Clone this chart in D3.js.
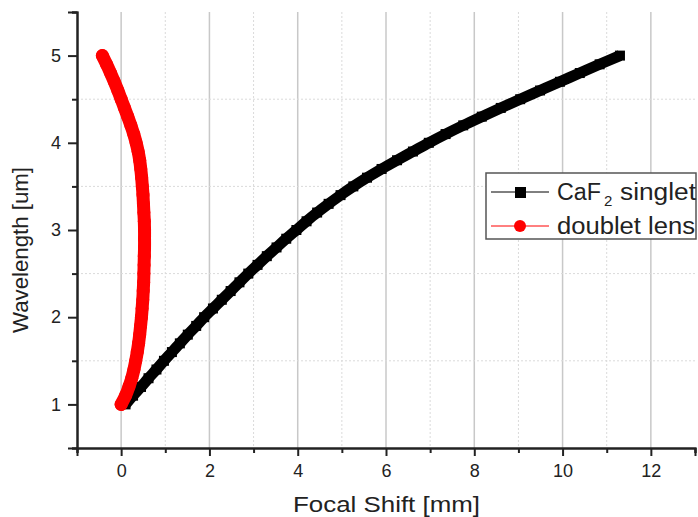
<!DOCTYPE html>
<meta charset="utf-8">
<html lang="en">
<head>
  <title>Focal Shift vs Wavelength</title>
  <script src="https://d3js.org/d3.v7.min.js"></script>
  <style>
    body { margin: 0; background: #fff; }
    text { font-family: "Liberation Sans", Arial, sans-serif; fill: #222; }
  </style>
</head>
<body>
<svg width="698" height="517"></svg>
<script>

// wavelength samples [um]
var wavelength = [1.0, 1.1, 1.2, 1.3, 1.4, 1.5, 1.6, 1.7, 1.8, 1.9,
                  2.0, 2.1, 2.2, 2.3, 2.4, 2.5, 2.6, 2.7, 2.8, 2.9,
                  3.0, 3.1, 3.2, 3.3, 3.4, 3.5, 3.6, 3.7, 3.8, 3.9,
                  4.0, 4.1, 4.2, 4.3, 4.4, 4.5, 4.6, 4.7, 4.8, 4.9, 5.0]

// focal shift [mm]
var singletShift = [0.10, 0.27, 0.45, 0.62, 0.80, 0.97, 1.15, 1.33, 1.51, 1.70,
                    1.88, 2.08, 2.28, 2.48, 2.68, 2.88, 3.09, 3.30, 3.52, 3.74,
                    3.97, 4.20, 4.44, 4.70, 4.97, 5.26, 5.57, 5.90, 6.25, 6.61,
                    6.97, 7.35, 7.75, 8.17, 8.60, 9.04, 9.49, 9.94, 10.39, 10.84, 11.30]

var doubletShift = [0.00, 0.10, 0.175, 0.24, 0.29, 0.33, 0.365, 0.395, 0.42, 0.44,
                    0.46, 0.475, 0.49, 0.50, 0.51, 0.515, 0.52, 0.525, 0.53, 0.53,
                    0.53, 0.525, 0.515, 0.505, 0.495, 0.48, 0.465, 0.445, 0.42, 0.385,
                    0.34, 0.285, 0.22, 0.15, 0.075, 0.00, -0.075, -0.155, -0.24, -0.33, -0.425]

var xTicks = [0, 2, 4, 6, 8, 10, 12]
var xMinor = [-1, 1, 3, 5, 7, 9, 11, 13]
var yTicks = [1, 2, 3, 4, 5]
var yMinor = [0.5, 1.5, 2.5, 3.5, 4.5, 5.5]

var svg = d3.select('svg')

var x = d3.scaleLinear().domain([-1, 13]).range([77, 695])
var y = d3.scaleLinear().domain([0.5, 5.5]).range([448, 12])

// grid
var grid = svg.append('g')
grid.selectAll('.vmaj').data(xTicks).enter().append('line')
  .attr('x1', x).attr('x2', x)
  .attr('y1', y(5.5)).attr('y2', y(0.5))
  .attr('stroke', '#c8c8c8').attr('stroke-width', 1.5)
grid.selectAll('.vmin').data(xMinor.slice(1, -1)).enter().append('line')
  .attr('x1', x).attr('x2', x)
  .attr('y1', y(5.5)).attr('y2', y(0.5))
  .attr('stroke', '#dadada').attr('stroke-width', 1).attr('stroke-dasharray', '2,2')
grid.selectAll('.hmin').data(yMinor.slice(1, -1)).enter().append('line')
  .attr('x1', x(-1)).attr('x2', x(13))
  .attr('y1', y).attr('y2', y)
  .attr('stroke', '#dadada').attr('stroke-width', 1).attr('stroke-dasharray', '2,2')

// axes
var xAxis = svg.append('g').attr('transform', 'translate(0,' + y(0.5) + ')')
xAxis.call(d3.axisBottom(x).tickValues(xMinor).tickSize(5).tickFormat(''))
xAxis.append('g').call(d3.axisBottom(x).tickValues(xTicks).tickSize(8).tickPadding(8).tickFormat(d3.format('d')))

var yAxis = svg.append('g').attr('transform', 'translate(' + x(-1) + ',0)')
yAxis.call(d3.axisLeft(y).tickValues(yMinor).tickSize(5).tickFormat(''))
yAxis.append('g').call(d3.axisLeft(y).tickValues(yTicks).tickSize(9).tickPadding(7).tickFormat(d3.format('d')))

svg.selectAll('.domain').attr('stroke', '#222').attr('stroke-width', 2)
svg.selectAll('.tick line').attr('stroke', '#222').attr('stroke-width', 2)
svg.selectAll('.tick text')
  .style('font-family', '"Liberation Sans", Arial, sans-serif')
  .style('font-size', '18px').attr('fill', '#222')

// axis titles
svg.append('text')
  .attr('x', 293).attr('y', 512)
  .attr('textLength', 187).attr('lengthAdjust', 'spacingAndGlyphs')
  .style('font-size', '22px')
  .text('Focal Shift [mm]')
svg.append('text')
  .attr('transform', 'translate(28,333) rotate(-90)')
  .attr('textLength', 166).attr('lengthAdjust', 'spacingAndGlyphs')
  .style('font-size', '22px')
  .text('Wavelength [um]')

// series
var singlet = wavelength.map(function (w, i) { return { x: singletShift[i], y: w } })
var doublet = wavelength.map(function (w, i) { return { x: doubletShift[i], y: w } })

var line = d3.line()
  .curve(d3.curveCatmullRom)
  .x(function (d) { return x(d.x) })
  .y(function (d) { return y(d.y) })

svg.append('path').datum(singlet)
  .attr('d', line).attr('fill', 'none')
  .attr('stroke', '#000').attr('stroke-width', 11)
svg.append('g').selectAll('rect').data(singlet).enter().append('rect')
  .attr('x', function (d) { return x(d.x) - 5 })
  .attr('y', function (d) { return y(d.y) - 5 })
  .attr('width', 10).attr('height', 10).attr('fill', '#000')

svg.append('path').datum(doublet)
  .attr('d', line).attr('fill', 'none')
  .attr('stroke', '#ff0000').attr('stroke-width', 13)
  .attr('stroke-linecap', 'round').attr('stroke-linejoin', 'round')
svg.append('g').selectAll('circle').data(doublet).enter().append('circle')
  .attr('cx', function (d) { return x(d.x) })
  .attr('cy', function (d) { return y(d.y) })
  .attr('r', 6.5).attr('fill', '#ff0000')

// legend
var legend = svg.append('g').attr('transform', 'translate(486,173)')
legend.append('rect')
  .attr('width', 210).attr('height', 66)
  .attr('fill', '#fff').attr('stroke', '#555').attr('stroke-width', 1.5)

legend.append('line').attr('x1', 5).attr('x2', 63).attr('y1', 19).attr('y2', 19)
  .attr('stroke', '#000').attr('stroke-width', 1)
legend.append('rect').attr('x', 29).attr('y', 14).attr('width', 11).attr('height', 11).attr('fill', '#000')
legend.append('text').attr('x', 71).attr('y', 27).style('font-size', '23px')
  .attr('textLength', 44).attr('lengthAdjust', 'spacingAndGlyphs').text('CaF')
legend.append('text').attr('x', 118).attr('y', 33).style('font-size', '15px').text('2')
legend.append('text').attr('x', 134).attr('y', 27).style('font-size', '23px')
  .attr('textLength', 76).attr('lengthAdjust', 'spacingAndGlyphs').text('singlet')

legend.append('line').attr('x1', 5).attr('x2', 63).attr('y1', 53).attr('y2', 53)
  .attr('stroke', '#ff0000').attr('stroke-width', 1)
legend.append('circle').attr('cx', 34).attr('cy', 53).attr('r', 6).attr('fill', '#ff0000')
legend.append('text').attr('x', 71).attr('y', 61).style('font-size', '23px')
  .attr('textLength', 138).attr('lengthAdjust', 'spacingAndGlyphs').text('doublet lens')

</script>
</body>
</html>
